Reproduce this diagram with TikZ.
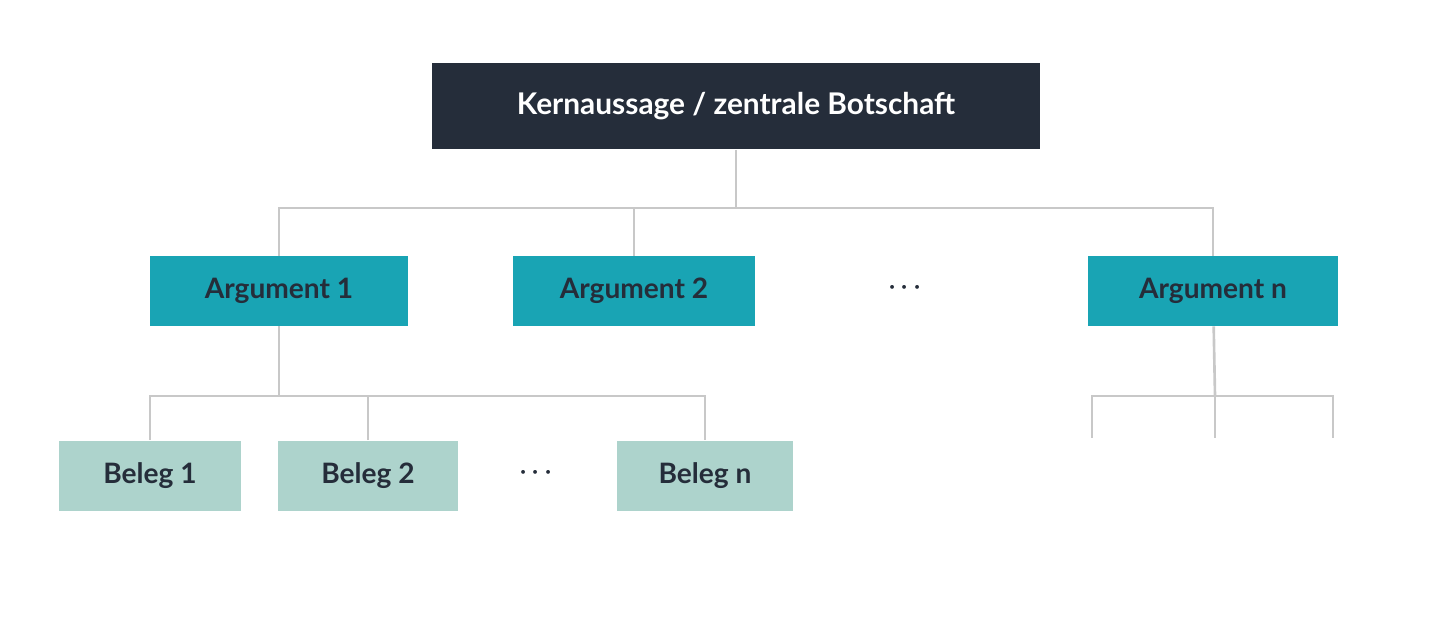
\documentclass[tikz,border=0pt]{standalone}
\usepackage{fontspec}
\setmainfont{Lato}
\usetikzlibrary{positioning,calc}
\definecolor{kern}{HTML}{252D3A}
\definecolor{arg}{HTML}{19A4B4}
\definecolor{beleg}{HTML}{ADD3CC}
\definecolor{conn}{HTML}{C8C8C8}
\tikzset{
    kernbox/.style={rectangle, fill=kern, text=white, font=\bfseries\fontsize{17}{20}\selectfont, minimum width=12.16cm, minimum height=1.74cm},
    argbox/.style={rectangle, fill=arg, text=kern, font=\bfseries\fontsize{16}{19}\selectfont, minimum height=1.4cm},
    belegbox/.style={rectangle, fill=beleg, text=kern, font=\bfseries\fontsize{16}{19}\selectfont, minimum height=1.42cm},
    dots/.style={text=kern, font=\bfseries\fontsize{22}{24}\selectfont},
    line/.style={draw=conn, line width=1.5pt}
}
\begin{document}
\begin{tikzpicture}[x=0.02cm, y=-0.02cm]
    \useasboundingbox (0,0) rectangle (1440,617);
    % Kernaussage
    \node [kernbox] (kern) at (736,106) {Kernaussage / zentrale Botschaft};

    % Argumente
    \node [argbox, minimum width=5.16cm] (arg1) at (279,291) {Argument 1};
    \node [argbox, minimum width=4.84cm] (arg2) at (634,291) {Argument 2};
    \node [dots] (argdots) at (905,288) {$\cdot\!\cdot\!\cdot$};
    \node [argbox, minimum width=5cm] (argn) at (1213,291) {Argument n};

    % Belege
    \node [belegbox, minimum width=3.66cm] (beleg1) at (150,476) {Beleg 1};
    \node [belegbox, minimum width=3.6cm] (beleg2) at (368,476) {Beleg 2};
    \node [dots] (belegdots) at (536,473) {$\cdot\!\cdot\!\cdot$};
    \node [belegbox, minimum width=3.54cm] (belegn) at (705,476) {Beleg n};

    % Verbindungen
    \coordinate (top) at (736,208);
    \coordinate (a1) at (279,396);
    \coordinate (an) at (1215,396);
    \coordinate (o1) at (1092,438);
    \coordinate (o2) at (1215,438);
    \coordinate (o3) at (1333,438);
    \path [line] (kern) -- (top);
    \path [line] (arg1.north) |- (top) -| (argn.north);
    \path [line] (arg2.north) -- (arg2.north |- top);
    \path [line] (arg1) -- (a1);
    \path [line] (beleg1.north) |- (a1) -| (belegn.north);
    \path [line] (beleg2.north) -- (beleg2.north |- a1);
    \path [line] (argn) -- (an);
    \path [line] (o1) |- (an) -| (o3);
    \path [line] (an) -- (o2);
\end{tikzpicture}
\end{document}
